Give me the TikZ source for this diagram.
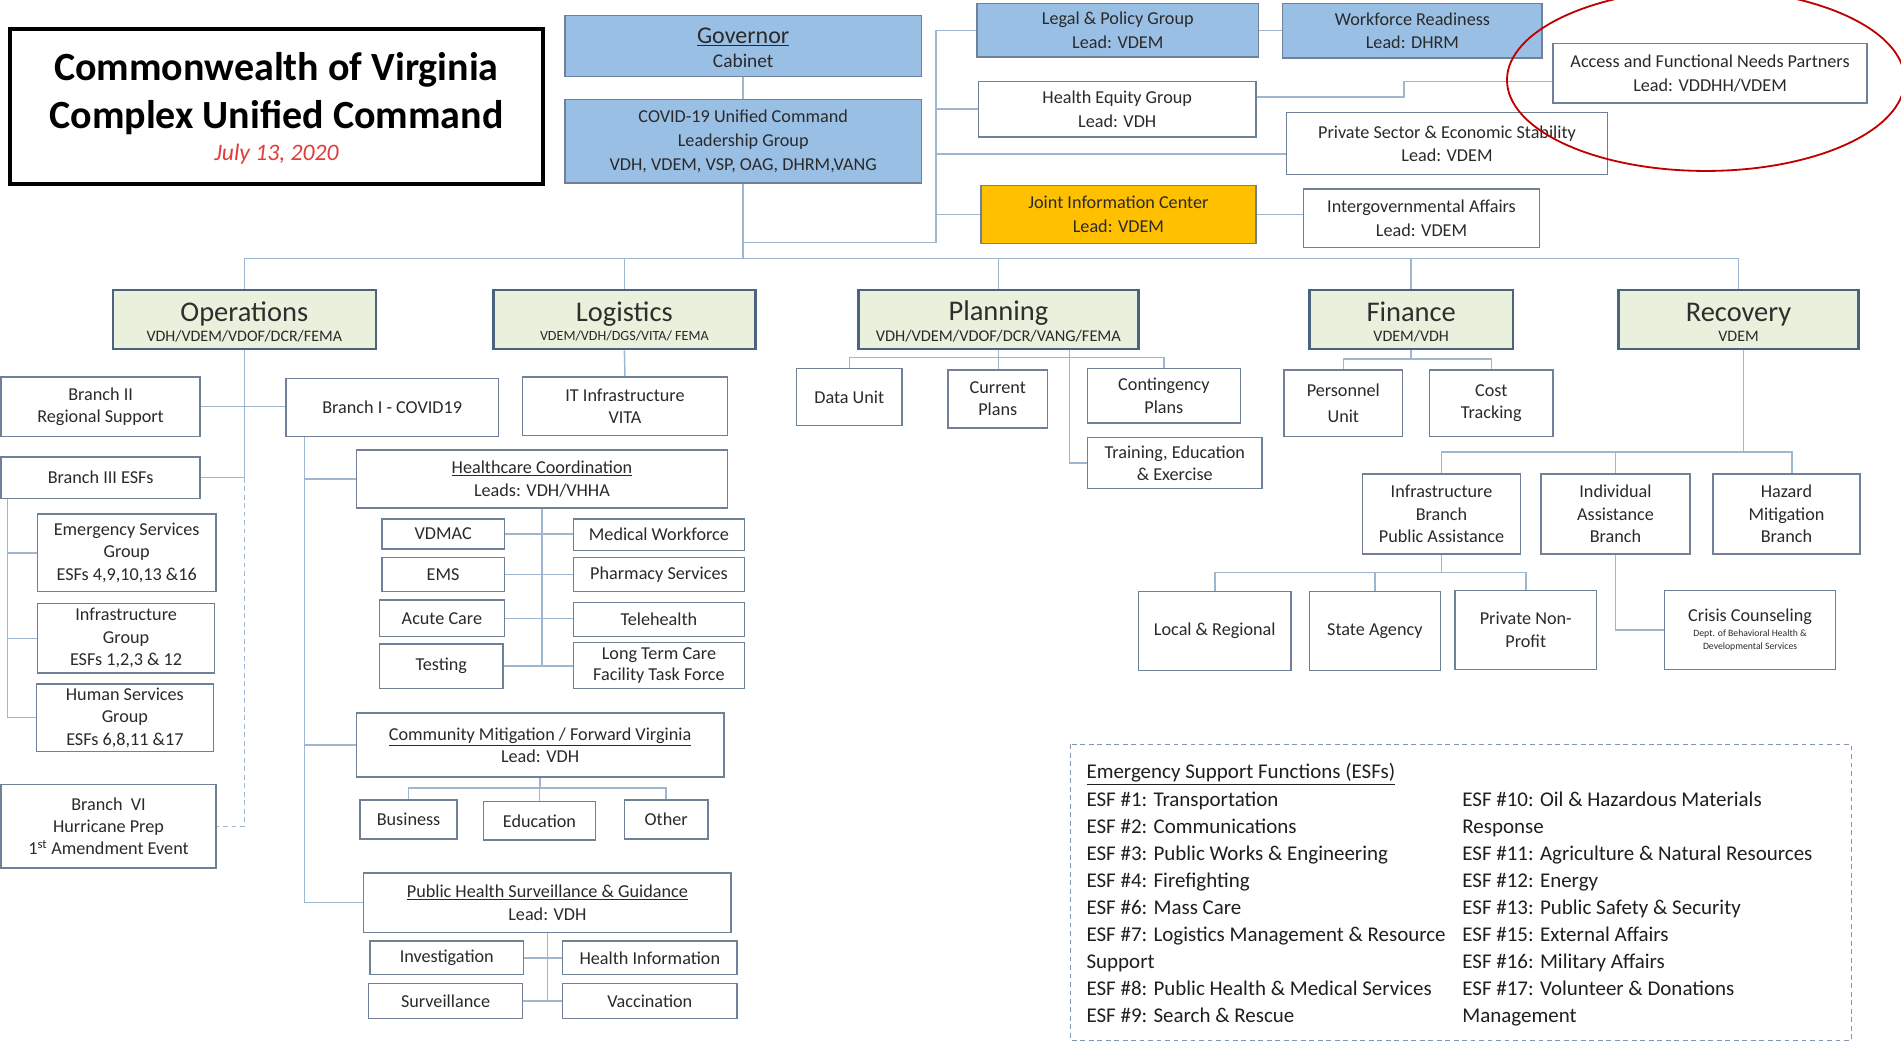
\documentclass[tikz,border=0pt]{standalone}
\usepackage{fontspec}
\setmainfont{Carlito}
\definecolor{linec}{HTML}{9FB6CF}
\definecolor{bord}{HTML}{6F8196}
\definecolor{headb}{HTML}{4A6480}
\definecolor{bluef}{HTML}{9ABFE4}
\definecolor{greenf}{HTML}{E9F0DC}
\definecolor{orangef}{HTML}{FFC000}
\definecolor{txt}{HTML}{2A2A2A}
\definecolor{datered}{HTML}{E03C3C}
\definecolor{ellred}{HTML}{C00000}
\definecolor{esfb}{HTML}{8497B0}
\newcommand\fs[2]{\fontsize{#1}{#2}\selectfont}
\newcommand\bx[7]{%
 \pgfmathsetmacro\bxcx{(#2+#4)/2}%
 \pgfmathsetmacro\bxcy{(#3+#5)/2}%
 \pgfmathsetmacro\bxw{#4-#2}%
 \pgfmathsetmacro\bxh{#5-#3}%
 \node[#6, minimum width=\bxw pt, minimum height=\bxh pt] (#1) at (\bxcx,\bxcy) {#7};}
\pgfdeclarelayer{bg}
\pgfsetlayers{bg,main}
\tikzset{
 bbox/.style={draw=bord, line width=1.2pt, fill=white, align=center, inner sep=1pt, text=txt, font=\fs{15}{18.5}},
 topbox/.style={bbox, font=\fs{15}{19.5}},
 bluebox/.style={topbox, fill=bluef},
 orbox/.style={topbox, fill=orangef},
 headbox/.style={draw=headb, line width=2pt, fill=greenf, inner sep=0pt},
 headt/.style={anchor=base, text=black!82, font=\fs{23.5}{26}, inner sep=0pt},
 heads/.style={anchor=base, text=txt, font=\fs{13.2}{15}, inner sep=0pt},
 conn/.style={draw=linec, line width=1.2pt},
 esf/.style={anchor=base west, inner sep=0pt, text=black!88, font=\fs{17.3}{20}},
}
\begin{document}
\begin{tikzpicture}[x=1pt,y=-1pt]
\useasboundingbox (0,0) rectangle (1568,859);

% title
\bx{title}{8}{24}{448}{152}{draw=black, line width=3pt, fill=white}{}
\node[anchor=base, inner sep=0pt, font=\fs{33}{36}\bfseries] (t1) at (228,66) {Commonwealth of Virginia};
\node[anchor=base, inner sep=0pt, font=\fs{33}{36}\bfseries] (t2) at (228,106) {Complex Unified Command};
\node[anchor=base, inner sep=0pt, font=\fs{19.5}{22}\itshape, text=datered] (t3) at (228,132.5) {July 13, 2020};

% top boxes
\bx{gov}{466}{13}{760}{63}{bluebox}{}
\node[anchor=base, inner sep=0pt, font=\fs{19.8}{22}, text=txt] (govT) at (613,35.5) {\underline{Governor}};
\node[anchor=base, inner sep=0pt, font=\fs{16}{18}, text=txt] (govS) at (613,55.5) {Cabinet};
\bx{covid}{466}{82}{760}{151}{bluebox}{COVID-19 Unified Command\\Leadership Group\\VDH, VDEM, VSP, OAG, DHRM,VANG}
\bx{legal}{806}{3}{1038}{47}{bluebox}{Legal \& Policy Group\\Lead: VDEM}
\bx{wf}{1058}{3}{1272}{48}{bluebox}{Workforce Readiness\\Lead: DHRM}
\bx{afn}{1281}{36}{1540}{85}{topbox}{Access and Functional Needs Partners\\Lead: VDDHH/VDEM}
\bx{heq}{807}{67}{1036}{113}{topbox}{Health Equity Group\\Lead: VDH}
\bx{priv}{1061}{93}{1326}{144}{topbox}{Private Sector \& Economic Stability\\Lead: VDEM}
\bx{jic}{809}{153}{1036}{201}{orbox}{Joint Information Center\\Lead: VDEM}
\bx{igov}{1075}{156}{1270}{204}{topbox}{Intergovernmental Affairs\\Lead: VDEM}

% section heads
\bx{ops}{93}{239}{310}{288}{headbox}{}
\node[headt] (opsT) at (201.5,265) {Operations};
\node[heads] (opsS) at (201.5,281.5) {VDH/VDEM/VDOF/DCR/FEMA};
\bx{log}{407}{239}{623}{288}{headbox}{}
\node[headt] (logT) at (515,265) {Logistics};
\node[heads, font=\fs{11.6}{13}] (logS) at (515,281) {VDEM/VDH/DGS/VITA/ FEMA};
\bx{plan}{708}{239}{939}{288}{headbox}{}
\node[headt] (planT) at (823.5,264) {Planning};
\node[heads, font=\fs{13.5}{15}] (planS) at (823.5,281.5) {VDH/VDEM/VDOF/DCR/VANG/FEMA};
\bx{fin}{1080}{239}{1248}{288}{headbox}{}
\node[headt] (finT) at (1164,265) {Finance};
\node[heads] (finS) at (1164,281.5) {VDEM/VDH};
\bx{rec}{1335}{239}{1533}{288}{headbox}{}
\node[headt] (recT) at (1434,265) {Recovery};
\node[heads] (recS) at (1434,281.5) {VDEM};

% operations / logistics subtree
\bx{b2}{1}{311}{165}{360}{bbox}{Branch II\\Regional Support}
\bx{b1}{236}{312}{411}{360}{bbox}{Branch I - COVID19}
\bx{it}{431}{311}{600}{359}{bbox}{IT Infrastructure\\VITA}
\bx{b3}{1}{377}{165}{411}{bbox}{Branch III ESFs}
\bx{esg}{31}{424}{178}{488}{bbox}{Emergency Services\\Group\\ESFs 4,9,10,13 \&16}
\bx{infg}{31}{498}{177}{555}{bbox}{Infrastructure\\Group\\ESFs 1,2,3 \& 12}
\bx{hsg}{30}{564}{176}{620}{bbox}{Human Services\\Group\\ESFs 6,8,11 \&17}
\bx{b6}{1}{647}{178}{716}{bbox}{Branch\ \ VI\\Hurricane Prep\\1\textsuperscript{st} Amendment Event}
\bx{hc}{294}{371}{600}{419}{bbox}{\underline{Healthcare Coordination}\\Leads: VDH/VHHA}
\bx{vdmac}{315}{428}{416}{453}{bbox}{VDMAC}
\bx{ems}{315}{460}{416}{488}{bbox}{EMS}
\bx{acute}{313}{495}{416}{525}{bbox}{Acute Care}
\bx{test}{313}{531}{415}{568}{bbox}{Testing}
\bx{mw}{473}{428}{614}{454}{bbox}{Medical Workforce}
\bx{ps}{473}{460}{614}{488}{bbox}{Pharmacy Services}
\bx{tele}{473}{497}{614}{525}{bbox}{Telehealth}
\bx{ltc}{473}{530}{614}{568}{bbox, font=\fs{15}{18}}{Long Term Care\\Facility Task Force}
\bx{cm}{294}{588}{597}{641}{bbox}{\underline{Community Mitigation / Forward Virginia}\\Lead: VDH}
\bx{biz}{297}{660}{377}{692}{bbox}{Business}
\bx{edu}{399}{661}{491}{693}{bbox}{Education}
\bx{oth}{515}{660}{584}{692}{bbox}{Other}
\bx{phs}{300}{720}{603}{769}{bbox}{\underline{Public Health Surveillance \& Guidance}\\Lead: VDH}
\bx{inv}{305}{776}{432}{804}{bbox}{Investigation}
\bx{hi}{464}{776}{608}{804}{bbox}{Health Information}
\bx{surv}{304}{811}{431}{840}{bbox}{Surveillance}
\bx{vac}{464}{811}{608}{840}{bbox}{Vaccination}

% planning / finance / recovery
\bx{data}{657}{304}{744}{351}{bbox}{Data Unit}
\bx{cur}{782}{305}{864}{353}{bbox}{Current\\Plans}
\bx{cont}{897}{304}{1023}{349}{bbox}{Contingency\\Plans}
\bx{train}{897}{361}{1041}{403}{bbox}{Training, Education\\\& Exercise}
\bx{pers}{1059}{305}{1157}{360}{bbox, font=\fs{15}{22}}{Personnel\\Unit}
\bx{cost}{1179}{305}{1281}{360}{bbox}{Cost\\Tracking}
\bx{infb}{1124}{391}{1254}{457}{bbox}{Infrastructure\\Branch\\Public Assistance}
\bx{indiv}{1271}{391}{1394}{457}{bbox}{Individual\\Assistance\\Branch}
\bx{haz}{1413}{391}{1534}{457}{bbox}{Hazard\\Mitigation\\Branch}
\bx{local}{939}{488}{1065}{553}{bbox}{Local \& Regional}
\bx{state}{1080}{488}{1188}{553}{bbox}{State Agency}
\bx{pnp}{1200}{487}{1317}{552}{bbox}{Private Non-\\Profit}
\bx{crisis}{1373}{487}{1514}{552}{bbox}{}
\node[anchor=base, inner sep=0pt, text=txt, font=\fs{15}{16}] (ccT) at (1443.5,512.5) {Crisis Counseling};
\node[anchor=base, inner sep=0pt, text=txt, font=\fs{8}{9}] (ccS1) at (1443.5,525) {Dept. of Behavioral Health \&};
\node[anchor=base, inner sep=0pt, text=txt, font=\fs{8}{9}] (ccS2) at (1443.5,536) {Developmental Services};

% ESF legend
\draw[esfb, line width=1.2pt, dash pattern=on 4pt off 3pt] (883,614) rectangle (1527,858);
\foreach \t [count=\i from 0] in {\underline{Emergency Support Functions (ESFs)}, ESF \#1: Transportation, ESF \#2: Communications, ESF \#3: Public Works \& Engineering, ESF \#4: Firefighting, ESF \#6: Mass Care, ESF \#7: Logistics Management \& Resource, Support, ESF \#8: Public Health \& Medical Services, ESF \#9: Search \& Rescue}
  \node[esf] (esfL\i) at (896,{642.5+22.33*\i}) {\t};
\foreach \t [count=\i from 1] in {ESF \#10: Oil \& Hazardous Materials, Response, ESF \#11: Agriculture \& Natural Resources, ESF \#12: Energy, ESF \#13: Public Safety \& Security, ESF \#15: External Affairs, ESF \#16: Military Affairs, ESF \#17: Volunteer \& Donations, Management}
  \node[esf] (esfR\i) at (1206,{642.5+22.33*\i}) {\t};

% red ellipse
\draw[ellred, line width=1.5pt] (1407,66) ellipse [x radius=164pt, y radius=75pt];

% connectors
\begin{pgfonlayer}{bg}
\fill[white] (0,0) rectangle (1568,859);
\coordinate (busy) at (0,213);
\coordinate (spB) at (772,200);
\coordinate (spT) at (772,25);
\coordinate (pvy) at (0,127);
\coordinate (heqR) at (1158,80);
\coordinate (afnY) at (0,67);
\draw[conn] (gov.south) -- (covid.north);
\draw[conn] (covid.south) -- (covid.south |- busy);
\draw[conn] (covid.south |- spB) -- (spB) -- (spT) -- (legal.west);
\draw[conn] (legal.east) -- (legal.east -| wf.west);
\draw[conn] (spB |- heq.west) -- (heq.west);
\draw[conn] (spB |- pvy) -- (priv.west |- pvy);
\draw[conn] (spB |- jic.west) -- (jic.west);
\draw[conn] (jic.east) -- (jic.east -| igov.west);
\draw[conn] (heq.east |- heqR) -- (heqR) -- (heqR |- afnY) -- (afn.west |- afnY);
\draw[conn] (ops.north) -- (ops.north |- busy) -- (rec.north |- busy) -- (rec.north);
\foreach \n in {log,plan,fin} \draw[conn] (\n.north) -- (\n.north |- busy);
% operations
\draw[conn] (ops.south) -- (ops.south |- b3.east) -- (b3.east);
\draw[conn] (b2.east) -- (b2.east -| b1.west);
\draw[conn, dash pattern=on 4pt off 3pt] (ops.south |- b3.east) -- (ops.south |- b6.east) -- (b6.east);
\coordinate (b3x) at (6,0);
\draw[conn] (b3.south -| b3x) -- (b3x |- hsg.west) -- (hsg.west);
\draw[conn] (b3x |- esg.west) -- (esg.west);
\draw[conn] (b3x |- infg.west) -- (infg.west);
\coordinate (b1x) at (251,0);
\draw[conn] (b1.south -| b1x) -- (b1x |- phs.west) -- (phs.west);
\draw[conn] (b1x |- hc.west) -- (hc.west);
\draw[conn] (b1x |- cm.west) -- (cm.west);
\draw[conn] (log.south) -- (it.north);
\draw[conn] (hc.south) -- (hc.south |- test.east);
\draw[conn] (vdmac.east) -- (vdmac.east -| mw.west);
\draw[conn] (ems.east) -- (ems.east -| ps.west);
\draw[conn] (acute.east) -- (acute.east -| tele.west);
\draw[conn] (test.east) -- (test.east -| ltc.west);
\coordinate (cmb) at (0,650);
\draw[conn] (cm.south) -- (cm.south |- cmb);
\draw[conn] (biz.north) -- (biz.north |- cmb) -- (oth.north |- cmb) -- (oth.north);
\draw[conn] (edu.north) -- (edu.north |- cmb);
\draw[conn] (phs.south) -- (phs.south |- surv.east);
\draw[conn] (inv.east) -- (inv.east -| hi.west);
\draw[conn] (surv.east) -- (surv.east -| vac.west);
% planning
\coordinate (plb) at (0,295);
\draw[conn] (plan.south) -- (plan.south |- cur.north);
\draw[conn] (data.north) -- (data.north |- plb) -- (cont.north |- plb) -- (cont.north);
\coordinate (trx) at (882,288);
\draw[conn] (trx) -- (trx |- train.west) -- (train.west);
% finance
\coordinate (fb) at (0,296);
\draw[conn] (fin.south) -- (fin.south |- fb);
\draw[conn] (pers.north) -- (pers.north |- fb) -- (cost.north |- fb) -- (cost.north);
% recovery
\coordinate (rb) at (0,373);
\coordinate (recx) at (1438,288);
\coordinate (hazx) at (1478,0);
\draw[conn] (recx) -- (recx |- rb);
\draw[conn] (infb.north) -- (infb.north |- rb) -- (hazx |- rb) -- (hazx |- haz.north);
\draw[conn] (indiv.north) -- (indiv.north |- rb);
\coordinate (ib) at (0,472);
\draw[conn] (infb.south) -- (infb.south |- ib);
\draw[conn] (local.north) -- (local.north |- ib) -- (pnp.north |- ib) -- (pnp.north);
\draw[conn] (state.north) -- (state.north |- ib);
\draw[conn] (indiv.south) -- (indiv.south |- crisis.west) -- (crisis.west);
\end{pgfonlayer}
\end{tikzpicture}
\end{document}
